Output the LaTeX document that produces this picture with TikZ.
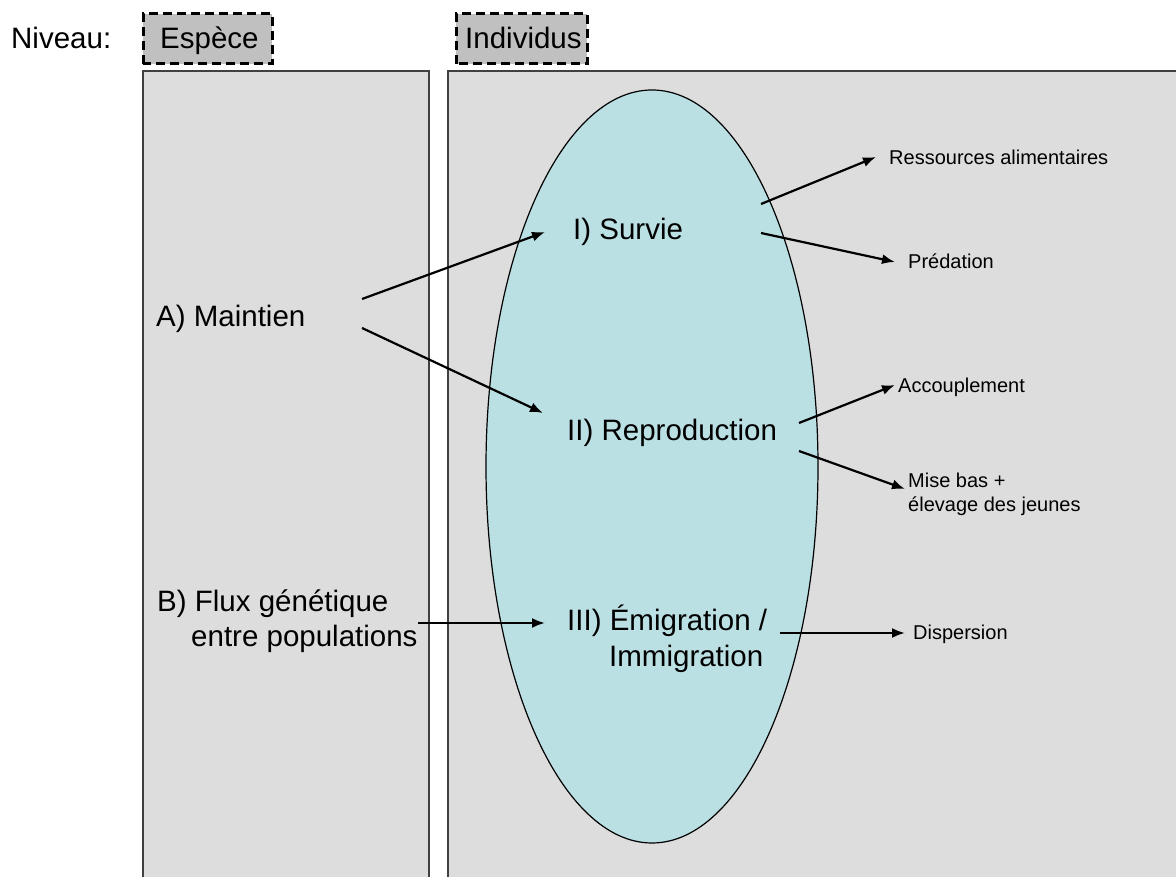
\documentclass[tikz,border=0pt]{standalone}
\usepackage{fontspec}
\setmainfont{Liberation Sans}
\usetikzlibrary{arrows.meta,shapes.geometric}
\definecolor{panelgray}{HTML}{DDDDDD}
\definecolor{boxgray}{HTML}{C0C0C0}
\definecolor{ellcyan}{HTML}{BAE0E4}
\definecolor{edgegray}{HTML}{404040}
\tikzset{
  panel/.style={fill=panelgray, draw=edgegray, line width=1.5pt},
  levelbox/.style={fill=boxgray, draw=black, line width=3pt, dash pattern=on 9pt off 5pt},
  bigtxt/.style={font=\fontsize{29.5}{35}\selectfont, inner sep=0pt, anchor=base west},
  smalltxt/.style={font=\fontsize{20}{24}\selectfont, inner sep=0pt, anchor=base west},
  arr/.style={line width=2.2pt, -{Latex[length=13pt,width=10pt]}},
}
\begin{document}
\begin{tikzpicture}[x=1pt,y=1pt]
\useasboundingbox (0,0) rectangle (1176,876);
\clip (0,0) rectangle (1176,876);
% panels
\path[panel] (143,-20) rectangle (429,805);
\path[panel] (448,-20) rectangle (1200,805);
% level boxes
\path[levelbox] (143,812) rectangle (272,862);
\path[levelbox] (456,812) rectangle (587,862);
\node[bigtxt] (niveau) at (11,827) {Niveau:};
\node[bigtxt] (espece) at (160,827) {Espèce};
\node[bigtxt] (individus) at (465,827) {Individus};
% ellipse
\node[draw=black, line width=1.2pt, fill=ellcyan, ellipse, minimum width=332pt, minimum height=753pt, inner sep=0pt] (ell) at (652,409.5) {};
% labels
\node[bigtxt] (maintien) at (156,549) {A) Maintien};
\node[bigtxt] (flux1) at (157,264) {B) Flux génétique};
\node[bigtxt] (flux2) at (191,229) {entre populations};
\node[bigtxt] (survie) at (573,636) {I) Survie};
\node[bigtxt] (repro) at (567,435) {II) Reproduction};
\node[bigtxt] (emig1) at (567,245) {III) Émigration /};
\node[bigtxt] (emig2) at (609,209) {Immigration};
\node[smalltxt] (ressources) at (889,711) {Ressources alimentaires};
\node[smalltxt] (predation) at (908,607) {Prédation};
\node[smalltxt] (accoupl) at (898,483) {Accouplement};
\node[smalltxt] (misebas1) at (908,388) {Mise bas +};
\node[smalltxt] (misebas2) at (908,364) {élevage des jeunes};
\node[smalltxt] (dispersion) at (913,236) {Dispersion};
% arrow end points
\coordinate (m1) at (362,577);
\coordinate (m2) at (362,548);
\coordinate (sIn) at (545,644);
\coordinate (rIn) at (543,463);
\coordinate (s1) at (761,672);
\coordinate (s2) at (761,643);
\coordinate (resIn) at (876,719);
\coordinate (preIn) at (895,614);
\coordinate (r1) at (799,453);
\coordinate (r2) at (799,425);
\coordinate (accIn) at (895,491);
\coordinate (misIn) at (905,387);
\coordinate (e1) at (780,243);
\coordinate (disIn) at (905,243);
\coordinate (f1) at (418,253);
\coordinate (eIn) at (545,253);
% arrows
\draw[arr] (m1) -- (sIn);
\draw[arr] (m2) -- (rIn);
\draw[arr] (s1) -- (resIn);
\draw[arr] (s2) -- (preIn);
\draw[arr] (r1) -- (accIn);
\draw[arr] (r2) -- (misIn);
\draw[arr] (e1) -- (disIn);
\draw[arr] (f1) -- (eIn);
\end{tikzpicture}
\end{document}
